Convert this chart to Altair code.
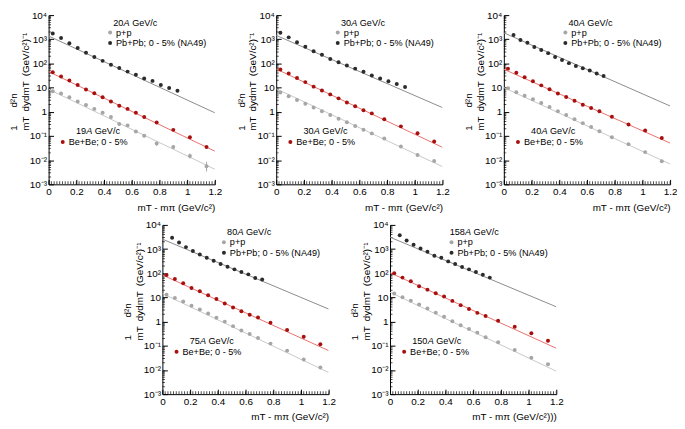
import altair as alt
import pandas as pd

# ---------------- data ----------------
x_ticks = [0, 0.2, 0.4, 0.6, 0.8, 1.0, 1.2]
y_ticks = [1e-3, 1e-2, 1e-1, 1, 10, 100, 1000, 10000]
x_minor = [round(0.02 * i, 2) for i in range(61)]
y_minor = [m * 10.0 ** e for e in range(-3, 4) for m in range(2, 10)]

x_small = [0.03, 0.09, 0.15, 0.21, 0.27, 0.33, 0.39, 0.45, 0.51, 0.57, 0.63, 0.69, 0.78, 0.90, 1.02, 1.14]
x_pb_a = [0.03, 0.09, 0.15, 0.21, 0.27, 0.33, 0.39, 0.45, 0.51, 0.57, 0.63, 0.69, 0.75, 0.81, 0.87, 0.93]
x_pb_b = [0.07, 0.12, 0.17, 0.22, 0.27, 0.32, 0.37, 0.42, 0.47, 0.52, 0.57, 0.62, 0.67, 0.72]
x_fit = [0.0, 1.2]

# panel 1: 20A (p+p, Pb+Pb) / 19A (Be+Be)
pp_20 = [7.1, 5.75, 4.0, 2.67, 1.9, 1.32, 0.91, 0.61, 0.31, 0.275, 0.154, 0.103, 0.049, 0.035, 0.0149, 0.0056]
pb_20 = [1740, 1130, 690, 437, 275, 185, 128, 88, 65, 46, 34, 24, 19, 12.8, 9.7, 7.4]
be_19 = [43.6, 29, 19.7, 12.8, 8.3, 5.9, 4.0, 2.67, 1.79, 1.32, 0.91, 0.61, 0.363, 0.179, 0.0885, 0.035]
fit_pp_20 = [8.6, 0.0042]
fit_pb_20 = [1360, 0.91]
fit_be_19 = [46, 0.0236]
err_x_20 = [0.51, 0.78, 0.90, 1.02, 1.14]
err_lo_20 = [0.27, 0.040, 0.029, 0.0117, 0.0034]
err_hi_20 = [0.36, 0.058, 0.041, 0.0186, 0.0085]

# panel 2: 30A
pp_30 = [6.3, 4.4, 3.1, 2.15, 1.5, 1.05, 0.74, 0.52, 0.37, 0.26, 0.18, 0.128, 0.078, 0.037, 0.0165, 0.0092]
pb_30 = [1850, 1200, 760, 494, 321, 229, 154, 113, 83, 61, 45, 32, 24, 18.5, 14, 10.6]
be_30 = [56, 38.6, 25, 16.9, 11, 7.6, 5.25, 3.6, 2.44, 1.69, 1.17, 0.86, 0.49, 0.25, 0.13, 0.059]
fit_pp_30 = [9.0, 0.0054]
fit_pb_30 = [1450, 1.49]
fit_be_30 = [59, 0.034]

# panel 3: 40A
pp_40 = [9.4, 6.5, 4.6, 3.3, 2.3, 1.58, 1.06, 0.74, 0.49, 0.34, 0.236, 0.158, 0.088, 0.046, 0.0215, 0.0091]
pb_40 = [1490, 940, 713, 479, 363, 267, 185, 140, 103, 78, 63, 51, 38.6, 30]
be_40 = [61, 41, 26.7, 18.5, 12.4, 8.6, 5.75, 4.1, 2.84, 1.97, 1.45, 1.06, 0.63, 0.3, 0.168, 0.083]
fit_pp_40 = [10, 0.0069]
fit_pb_40 = [1850, 1.74]
fit_be_40 = [57.5, 0.051]

# panel 4: 80A (p+p, Pb+Pb) / 75A (Be+Be)
pp_80 = [12.8, 9.4, 6.8, 4.5, 3.15, 2.17, 1.45, 1.0, 0.65, 0.43, 0.31, 0.21, 0.123, 0.063, 0.027, 0.0126]
pb_80 = [2920, 1875, 1205, 825, 601, 439, 330, 241, 187, 145, 113, 90, 64, 55]
be_75 = [85, 58, 38.5, 24.8, 18, 12.4, 8.7, 5.6, 3.85, 2.7, 1.92, 1.49, 0.9, 0.45, 0.238, 0.115]
fit_pp_80 = [14.5, 0.0079]
fit_pb_80 = [2570, 3.3]
fit_be_75 = [85, 0.063]

# panel 5: 158A (p+p, Pb+Pb) / 150A (Be+Be)
pp_158 = [14.5, 10.2, 7.3, 5.1, 3.5, 2.35, 1.59, 1.03, 0.70, 0.49, 0.35, 0.224, 0.139, 0.067, 0.032, 0.0173]
pb_158 = [3760, 2260, 1500, 1060, 774, 530, 439, 310, 240, 181, 145, 113, 87.5, 66]
be_150 = [100, 66, 46.5, 29, 21, 15, 10.9, 7.2, 4.8, 3.3, 2.3, 1.69, 1.09, 0.615, 0.33, 0.163]
fit_pp_158 = [16.4, 0.0089]
fit_pb_158 = [3100, 4.1]
fit_be_150 = [105, 0.079]

energy_top = ["20", "30", "40", "80", "158"]
energy_be = ["19", "30", "40", "75", "150"]
x_titles = ["mT - mπ (GeV/c²)"] * 4 + ["mT - mπ (GeV/c²)))"]
legend_pp = "p+p"
legend_pb = "Pb+Pb; 0 - 5% (NA49)"
legend_be = "Be+Be; 0 - 5%"

panels = [
    (pp_20, pb_20, be_19, x_pb_a, fit_pp_20, fit_pb_20, fit_be_19),
    (pp_30, pb_30, be_30, x_pb_a, fit_pp_30, fit_pb_30, fit_be_30),
    (pp_40, pb_40, be_40, x_pb_b, fit_pp_40, fit_pb_40, fit_be_40),
    (pp_80, pb_80, be_75, x_pb_b, fit_pp_80, fit_pb_80, fit_be_75),
    (pp_158, pb_158, be_150, x_pb_b, fit_pp_158, fit_pb_158, fit_be_150),
]

# ---------------- styling ----------------
W, H = 168, 171
C_PP, C_PB, C_BE = "#a6a6a6", "#2b2b2b", "#a80f0f"
L_PP, L_PB, L_BE = "#c8c8c8", "#8c8c8c", "#e8706e"
FONT = "Liberation Sans"
SP = "\u2002"
NB = "\u00a0"
y_title = [NB + "1" + SP * 3 + NB + "d²n",
           "mT" + SP + "dydmT" + SP + "(GeV/c²)⁻¹"]

label_expr = ("datum.value < 0.005 ? '10⁻³' : datum.value < 0.05 ? '10⁻²' : "
              "datum.value < 0.5 ? '10⁻¹' : datum.value < 5 ? '1' : datum.value < 50 ? '10' : "
              "datum.value < 500 ? '10²' : datum.value < 5000 ? '10³' : '10⁴'")

ysc = alt.Scale(type="log", domain=[1e-3, 1e4], nice=False)
xsc = alt.Scale(domain=[0, 1.2], nice=False, zero=False)


def make_panel(k):
    pp, pb, be, xpb, fpp, fpb, fbe = panels[k]
    x_enc = alt.X("x:Q", scale=xsc,
                  axis=alt.Axis(values=x_ticks, format="~g", title=x_titles[k],
                                titleAnchor="end", titleFontSize=10, titleFontWeight="normal",
                                titlePadding=6, labelFontSize=10, labelPadding=7,
                                tickSize=alt.ExprRef("-5"), domainColor="black",
                                tickColor="black", labelColor="black", titleColor="black",
                                grid=False, labelFlush=False))
    y_enc = alt.Y("y:Q", scale=ysc,
                  axis=alt.Axis(values=y_ticks, labelExpr=label_expr, title=y_title,
                                titleFontSize=10, titleFontWeight="normal", titlePadding=-1,
                                titleAlign="left", titleY=0.68 * H,
                                labelFontSize=10, labelPadding=7,
                                tickSize=alt.ExprRef("-5"), domainColor="black",
                                tickColor="black", labelColor="black", titleColor="black",
                                grid=False, labelFlush=False))

    def pts(xs, ys, color):
        df = pd.DataFrame({"x": xs, "y": ys})
        return alt.Chart(df).mark_circle(size=16, opacity=1, color=color).encode(x=x_enc, y=y_enc)

    def fit(ys, color):
        df = pd.DataFrame({"x": x_fit, "y": ys})
        return alt.Chart(df).mark_line(strokeWidth=1, color=color, clip=True).encode(x=x_enc, y=y_enc)

    # minor ticks (inside the frame, clipped to the plot area)
    ymin_df = pd.DataFrame({"y": y_minor})
    xmin_df = pd.DataFrame({"x": x_minor})
    layers = [
        alt.Chart(ymin_df).mark_tick(orient="horizontal", size=5, thickness=1, color="black",
                                     clip=True).encode(y=y_enc, x=alt.value(0)),
        alt.Chart(xmin_df).mark_tick(orient="vertical", size=6, thickness=1, color="black",
                                     clip=True).encode(x=x_enc, y=alt.value(H)),
    ]

    layers += [fit(fpp, L_PP), fit(fbe, L_BE), fit(fpb, L_PB)]
    if k == 0:
        edf = pd.DataFrame({"x": err_x_20, "lo": err_lo_20, "hi": err_hi_20})
        layers.append(alt.Chart(edf).mark_rule(color=C_PP, strokeWidth=1).encode(
            x=x_enc, y=alt.Y("lo:Q", scale=ysc), y2="hi:Q"))
    layers += [pts(x_small, pp, C_PP), pts(x_small, be, C_BE), pts(xpb, pb, C_PB)]

    one = alt.Data(values=[{}])

    def txt(s, x, y, align="left", style="normal", color="black", size=9.2):
        return alt.Chart(one).mark_text(align=align, baseline="middle", fontSize=size,
                                        fontStyle=style, color=color, font=FONT).encode(
            x=alt.value(x), y=alt.value(y), text=alt.value(s))

    def dot(x, y, color):
        return alt.Chart(one).mark_circle(size=16, opacity=1, color=color).encode(
            x=alt.value(x), y=alt.value(y))

    # energy label (top)
    xa = 0.45 * W
    ya = 0.045 * H
    layers += [txt(energy_top[k], xa, ya, align="right"), txt("A", xa + 0.2, ya, style="italic"),
               txt("GeV/c", xa + 8.8, ya)]
    # legend p+p / Pb+Pb
    xm = 0.37 * W
    layers += [dot(xm, 0.103 * H, C_PP), txt(legend_pp, xm + 6, 0.103 * H),
               dot(xm, 0.165 * H, C_PB), txt(legend_pb, xm + 6, 0.165 * H)]
    # Be+Be label
    xb = 0.225 * W
    yb = 0.685 * H
    layers += [txt(energy_be[k], xb, yb, align="right"), txt("A", xb + 0.2, yb, style="italic"),
               txt("GeV/c", xb + 8.8, yb)]
    layers += [dot(0.085 * W, 0.75 * H, C_BE), txt(legend_be, 0.085 * W + 6, 0.75 * H)]

    return alt.layer(*layers).properties(width=W, height=H)


top = alt.hconcat(make_panel(0), make_panel(1), make_panel(2), spacing=62, bounds="flush")
bottom = alt.hconcat(make_panel(3), make_panel(4), spacing=62, bounds="flush")
chart = alt.vconcat(top, bottom, spacing=8, center=True, padding=0).configure(
    font=FONT).configure_view(stroke=None)

chart.save("out.html", embed_options={"renderer": "svg", "actions": False})
